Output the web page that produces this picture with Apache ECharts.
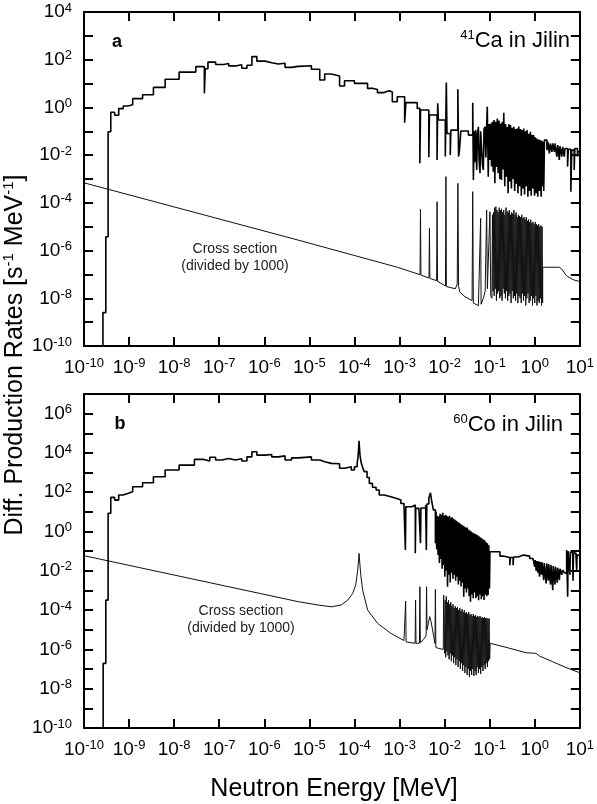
<!DOCTYPE html>
<html><head><meta charset="utf-8">
<script src="https://cdn.jsdelivr.net/npm/echarts@6/dist/echarts.min.js"></script>
<style>html,body{margin:0;padding:0;background:#fff}#c{width:597px;height:804px}</style>
</head><body><div id="c"></div>
<script>
// All values are log10 exponents: [log10(E / MeV), log10(rate)]
const xExpMin = -10, xExpMax = 1;
const caYExp = [-10, 4];
const coYExp = [-10, 7];

// 41Ca differential production rate (histogram, step)
const caFlux = [[-9.58,-11],[-9.58,-8.6],[-9.516,-5.42],[-9.465,-1.02],[-9.406,-0.2],[-9.32,-0.33],[-9.23,-0.05],[-9.13,0.06],[-9.03,0.11],[-8.92,0.37],[-8.7,0.53],[-8.46,0.84],[-8.2,1.18],[-7.89,1.48],[-7.52,1.71],[-7.33,0.59],[-7.31,1.62],[-7.25,1.9],[-7.08,1.8],[-6.9,1.84],[-6.79,1.74],[-6.64,1.79],[-6.5,1.64],[-6.385,1.77],[-6.275,2.13],[-6.165,1.94],[-5.98,1.87],[-5.835,1.82],[-5.69,1.85],[-5.54,1.68],[-5.395,1.72],[-5.25,1.75],[-4.955,1.6],[-4.77,1.15],[-4.66,1.4],[-4.515,1.32],[-4.33,0.9],[-4.22,1.12],[-4.0,1.01],[-3.71,0.8],[-3.6,0.75],[-3.49,0.62],[-3.36,0.7],[-3.23,0.65],[-3.16,0.24],[-3.05,0.45],
[-2.886,-0.64],[-2.86,0.2],[-2.607,-0.04],[-2.549,-2.34],[-2.534,-0.11],[-2.35,-2.09],[-2.336,-0.32],[-2.167,-2.2],[-2.153,0.17],[-2.138,-0.53],[-1.984,-2.06],[-1.962,1.04],[-1.947,-1.09],[-1.874,-1.99],[-1.86,-0.95],[-1.706,0.76],[-1.69,-2.06],[-1.669,-1.78],[-1.64,-0.99],[-1.471,-1.16],[-1.376,0.2],
[-1.361,-3.04],[-1.345,-1.0],[-1.324,-2.3],[-1.31,-0.95],[-1.288,-2.62],[-1.27,-1.1],[-1.251,-0.81],[-1.235,-2.2],[-1.214,-2.76],[-1.2,-1.0],[-1.178,-1.02],[-1.16,-2.4],[-1.141,-2.62],[-1.125,-0.9],[-1.104,-0.81],[-1.085,-2.1],[-1.068,-0.85],[-1.053,0.03],[-1.031,-2.9],[-1.015,-0.7],[-0.995,-2.2],[-0.978,-0.67],[-0.958,-2.48],[-0.94,-0.6],[-0.921,-2.7],[-0.903,-0.53],[-0.885,-3.18],[-0.867,-0.6],[-0.848,-2.5],[-0.83,-0.46],[-0.811,-2.76],[-0.793,-0.55],[-0.775,-3.0],[-0.757,-0.67],[-0.738,-3.04],[-0.72,-0.6],[-0.705,-2.6],[-0.687,-0.22],[-0.665,-3.3],[-0.648,-0.7],[-0.628,-2.9],[-0.61,-0.81],[-0.591,-3.6],[-0.573,-0.7],[-0.555,-3.1],[-0.537,-0.74],[-0.518,-3.4],[-0.5,-0.85],[-0.482,-3.0],[-0.464,-0.81],[-0.445,-3.5],[-0.427,-0.9],[-0.408,-3.2],[-0.39,-0.88],[-0.372,-3.6],[-0.354,-0.8],[-0.335,-3.3],[-0.317,-0.9],[-0.298,-3.7],[-0.28,-0.95],[-0.262,-3.4],[-0.244,-0.88],[-0.225,-3.65],[-0.207,-1.0],[-0.188,-3.3],[-0.17,-0.95],[-0.152,-3.74],[-0.134,-1.1],[-0.115,-3.5],[-0.097,-1.02],[-0.078,-3.7],[-0.06,-1.15],[-0.042,-3.4],[-0.024,-1.16],[-0.005,-3.7],[0.013,-1.25],[0.032,-3.6],[0.05,-1.3],[0.068,-3.74],[0.087,-1.35],[0.105,-3.5],[0.123,-1.37],[0.142,-3.74],[0.16,-1.4],[0.178,-3.3],[0.19,-1.44],[0.2,-3.5],
[0.215,-1.37],[0.27,-1.79],[0.29,-1.44],[0.325,-1.93],[0.345,-1.51],[0.38,-1.86],[0.4,-1.51],[0.435,-1.86],[0.45,-1.51],[0.49,-2.06],[0.51,-1.58],[0.545,-2.2],[0.56,-1.62],[0.6,-2.06],[0.62,-1.65],[0.655,-2.06],[0.67,-1.72],[0.728,-2.48],[0.745,-1.76],[0.801,-3.53],[0.82,-1.79],[0.875,-2.62],[0.89,-1.72],[0.948,-2.06],[0.96,-1.85],[1.0,-1.85]];

// 41Ca cross section (divided by 1000)
const caXs = [[-10,-3.16],[-5.25,-5.56],[-3.047,-6.70],[-2.545,-7.01],[-2.535,-4.27],[-2.525,-7.03],[-2.346,-7.15],[-2.336,-5.07],[-2.326,-7.17],[-2.177,-7.26],[-2.167,-3.95],[-2.157,-7.29],[-1.98,-7.48],[-1.97,-2.9],[-1.96,-7.51],[-1.76,-7.6],[-1.72,-7.4],[-1.705,-3.18],[-1.69,-7.5],[-1.66,-7.75],[-1.55,-7.93],[-1.39,-8.1],[-1.376,-3.53],[-1.362,-8.2],[-1.25,-8.31],[-1.21,-8.28],[-1.2,-4.65],[-1.19,-8.25],[-1.14,-8.0],[-1.1,-7.7],[-1.067,-4.3],[-1.05,-7.6],[-0.995,-4.37],[-0.975,-7.9],
[-0.950,-8.0],[-0.938,-4.5],[-0.925,-7.7],[-0.913,-4.4],[-0.900,-7.9],[-0.888,-4.2],[-0.875,-7.6],[-0.863,-4.16],[-0.850,-8.1],[-0.838,-4.3],[-0.825,-7.8],[-0.813,-4.4],[-0.800,-7.7],[-0.788,-4.2],[-0.775,-8.0],[-0.763,-4.3],[-0.750,-7.9],[-0.738,-4.25],[-0.725,-8.1],[-0.713,-4.4],[-0.700,-7.6],[-0.688,-4.3],[-0.675,-7.8],[-0.663,-4.5],[-0.650,-8.0],[-0.638,-4.2],[-0.625,-7.7],[-0.613,-4.35],[-0.600,-8.1],[-0.588,-4.4],[-0.575,-7.9],[-0.563,-4.3],[-0.550,-7.8],[-0.538,-4.5],[-0.525,-8.2],[-0.513,-4.4],[-0.500,-7.7],[-0.488,-4.45],[-0.475,-8.0],[-0.463,-4.3],[-0.450,-7.9],[-0.438,-4.5],[-0.425,-8.1],[-0.413,-4.4],[-0.400,-7.8],[-0.388,-4.6],[-0.375,-8.2],[-0.363,-4.5],[-0.350,-7.9],[-0.338,-4.55],[-0.325,-8.0],[-0.313,-4.6],[-0.300,-8.2],[-0.288,-4.5],[-0.275,-7.8],[-0.263,-4.65],[-0.250,-8.1],[-0.238,-4.6],[-0.225,-7.9],[-0.213,-4.7],[-0.200,-8.3],[-0.188,-4.6],[-0.175,-8.0],[-0.163,-4.75],[-0.150,-7.8],[-0.138,-4.7],[-0.125,-8.2],[-0.113,-4.8],[-0.100,-8.1],[-0.088,-4.7],[-0.075,-7.9],[-0.063,-4.85],[-0.050,-8.3],[-0.038,-4.8],[-0.025,-8.0],[-0.013,-4.9],[0.000,-8.2],[0.013,-4.8],[0.025,-7.9],[0.038,-4.9],[0.050,-8.3],[0.063,-4.95],[0.075,-8.1],[0.088,-4.9],[0.100,-8.2],[0.113,-5.0],[0.125,-8.0],[0.138,-4.95],[0.150,-8.3],[0.163,-5.0],[0.175,-8.2],
[0.178,-6.70],[0.546,-6.70],[0.6,-6.78],[0.7,-7.05],[0.85,-7.22],[1.0,-7.3]];

// 60Co differential production rate (histogram, step)
const coFlux = [[-9.575,-11],[-9.575,-6.71],[-9.516,-3.49],[-9.465,0.93],[-9.406,1.74],[-9.32,1.6],[-9.23,1.86],[-9.13,1.94],[-9.03,2.03],[-8.92,2.28],[-8.7,2.48],[-8.46,2.79],[-8.2,3.13],[-7.89,3.38],[-7.55,3.67],[-7.34,3.59],[-7.21,3.78],[-7.08,3.64],[-6.94,3.72],[-6.79,3.64],[-6.64,3.7],[-6.5,3.59],[-6.385,3.8],[-6.275,4.06],[-6.165,3.89],[-5.98,3.92],[-5.835,3.8],[-5.69,3.85],[-5.54,3.64],[-5.395,3.75],[-5.25,3.8],[-4.955,3.64],[-4.77,3.55],[-4.66,3.47],[-4.515,3.45],
[-4.33,3.22],[-4.22,3.3],[-4.07,3.13],[-4.0,3.3],[-3.94,3.47],[-3.92,3.8],[-3.905,4.3],[-3.898,4.62],[-3.89,4.3],[-3.875,3.85],[-3.85,3.5],[-3.81,3.2],[-3.78,3.05],[-3.72,2.75],[-3.67,2.45],[-3.6,2.25],[-3.52,2.11],[-3.45,1.86],[-3.34,1.77],[-3.19,1.69],[-3.08,1.6],[-2.97,1.43],[-2.9,1.26],[-2.87,-0.94],[-2.86,1.26],[-2.72,1.35],[-2.65,-1.11],[-2.64,1.18],[-2.57,1.26],[-2.535,-0.6],[-2.525,1.2],[-2.42,1.35],[-2.405,-0.94],[-2.395,1.4],[-2.35,1.7],[-2.314,1.97],[-2.29,1.6],[-2.25,1.1],[-2.204,-0.6],
[-2.190,1.0],[-2.175,-0.9],[-2.160,0.8],[-2.145,-1.2],[-2.130,0.76],[-2.115,-1.6],[-2.100,0.9],[-2.085,-1.4],[-2.070,0.85],[-2.055,-1.9],[-2.040,0.95],[-2.025,-1.7],[-2.010,0.8],[-1.995,-2.3],[-1.980,0.85],[-1.965,-2.0],[-1.950,0.8],[-1.935,-2.81],[-1.920,0.75],[-1.905,-2.2],[-1.890,0.8],[-1.875,-2.6],[-1.860,0.7],[-1.845,-2.1],[-1.830,0.72],[-1.815,-2.4],[-1.800,0.65],[-1.785,-2.2],[-1.770,0.6],[-1.755,-2.5],[-1.740,0.55],[-1.725,-2.3],[-1.710,0.5],[-1.695,-2.7],[-1.680,0.45],[-1.665,-2.5],[-1.650,0.4],[-1.635,-2.8],[-1.620,0.35],[-1.605,-2.6],[-1.590,0.3],[-1.575,-3.32],[-1.560,0.25],[-1.545,-2.9],[-1.530,0.2],[-1.515,-3.1],[-1.500,0.2],[-1.485,-2.9],[-1.470,0.1],[-1.455,-3.3],[-1.440,0.05],[-1.425,-3.57],[-1.410,0.0],[-1.395,-3.2],[-1.380,-0.05],[-1.365,-3.4],[-1.350,-0.09],[-1.335,-3.1],[-1.320,-0.12],[-1.305,-3.4],[-1.290,-0.15],[-1.275,-3.3],[-1.260,-0.2],[-1.245,-3.5],[-1.230,-0.25],[-1.215,-3.2],[-1.200,-0.3],[-1.185,-3.45],[-1.170,-0.35],[-1.155,-3.3],[-1.140,-0.4],[-1.125,-3.49],[-1.110,-0.45],[-1.095,-3.2],[-1.080,-0.55],[-1.065,-3.3],[-1.050,-0.6],[-1.035,-3.23],[-1.020,-0.7],[-1.005,-2.9],[-0.994,-1.03],
[-0.773,-1.25],[-0.7,-1.32],[-0.553,-1.71],[-0.54,-1.32],[-0.48,-1.71],[-0.47,-1.3],[-0.37,-1.25],[-0.333,-1.2],[-0.25,-1.2],[-0.223,-1.25],[-0.113,-1.37],[-0.04,-1.45],[0.0,-1.8],[0.01,-1.45],[0.033,-2.0],[0.045,-1.5],[0.07,-2.1],[0.08,-1.52],[0.107,-2.3],[0.12,-1.54],[0.15,-2.2],[0.16,-1.56],[0.2,-2.47],[0.21,-1.6],[0.253,-2.64],[0.265,-1.62],[0.3,-2.5],[0.31,-1.65],[0.35,-2.7],[0.36,-1.7],[0.4,-2.98],[0.41,-1.75],[0.45,-2.7],[0.46,-1.8],[0.5,-2.6],[0.51,-1.85],[0.547,-2.47],[0.56,-1.9],[0.6,-2.2],[0.62,-1.96],[0.657,-2.1],[0.693,-2.13],[0.708,-0.94],[0.72,-0.94],[0.73,-3.32],[0.74,-1.0],[0.766,-1.03],[0.78,-2.2],[0.79,-1.05],[0.84,-1.1],[0.85,-2.5],[0.86,-1.1],[0.913,-1.15],[0.93,-1.96],[0.94,-1.2],[0.987,-1.2],[1.0,-1.2]];

// 60Co cross section (divided by 1000)
const coXs = [[-10,-1.23],[-5.248,-3.57],[-4.808,-3.74],[-4.515,-3.83],[-4.295,-3.74],[-4.148,-3.49],[-4.038,-3.15],[-3.97,-2.7],[-3.93,-2.0],[-3.91,-1.5],[-3.898,-1.11],[-3.885,-1.5],[-3.86,-2.2],[-3.818,-2.98],[-3.708,-3.99],[-3.488,-4.67],[-3.194,-5.18],[-2.901,-5.55],[-2.874,-5.6],[-2.864,-3.54],[-2.854,-5.62],[-2.654,-5.69],[-2.644,-3.49],[-2.634,-5.69],[-2.558,-5.68],[-2.548,-2.81],[-2.538,-5.65],[-2.47,-5.5],[-2.41,-5.3],[-2.4,-2.81],[-2.39,-5.0],[-2.36,-4.67],[-2.33,-4.33],[-2.3,-4.59],[-2.24,-5.35],[-2.214,-5.7],[-2.204,-2.94],[-2.194,-5.9],[-2.13,-5.95],[-2.1,-6.03],[-2.03,-6.0],[-2.02,-3.23],
[-2.000,-6.2],[-1.988,-3.5],[-1.975,-6.4],[-1.963,-3.3],[-1.950,-6.1],[-1.938,-3.6],[-1.925,-6.3],[-1.913,-3.5],[-1.900,-6.5],[-1.888,-3.7],[-1.875,-6.2],[-1.863,-3.6],[-1.850,-6.6],[-1.838,-3.8],[-1.825,-6.3],[-1.813,-3.7],[-1.800,-6.7],[-1.788,-3.9],[-1.775,-6.4],[-1.763,-3.8],[-1.750,-6.8],[-1.738,-3.9],[-1.725,-6.5],[-1.713,-3.85],[-1.700,-6.9],[-1.688,-4.0],[-1.675,-6.6],[-1.663,-3.9],[-1.650,-7.0],[-1.638,-4.05],[-1.625,-6.7],[-1.613,-3.95],[-1.600,-7.1],[-1.588,-4.1],[-1.575,-6.8],[-1.563,-4.0],[-1.550,-7.2],[-1.538,-4.15],[-1.525,-6.9],[-1.513,-4.1],[-1.500,-7.3],[-1.488,-4.2],[-1.475,-7.0],[-1.463,-4.1],[-1.450,-7.39],[-1.438,-4.25],[-1.425,-7.1],[-1.413,-4.2],[-1.400,-7.3],[-1.388,-4.3],[-1.375,-7.0],[-1.363,-4.2],[-1.350,-7.35],[-1.338,-4.3],[-1.325,-7.1],[-1.313,-4.25],[-1.300,-7.3],[-1.288,-4.35],[-1.275,-6.9],[-1.263,-4.3],[-1.250,-7.2],[-1.238,-4.35],[-1.225,-7.0],[-1.213,-4.3],[-1.200,-7.25],[-1.188,-4.4],[-1.175,-6.9],[-1.163,-4.35],[-1.150,-7.1],[-1.138,-4.4],[-1.125,-6.8],[-1.113,-4.35],[-1.100,-7.0],[-1.088,-4.42],[-1.075,-6.7],[-1.063,-4.4],[-1.050,-6.9],[-1.038,-4.45],[-1.025,-6.6],[-1.013,-4.42],[-1.000,-6.5],
[-0.99,-5.69],[-0.64,-5.89],[-0.19,-6.17],[0.03,-6.2],[0.107,-6.34],[0.4,-6.63],[0.69,-6.92],[1.0,-7.19]];

const FONT = '"Liberation Sans", Arial, Helvetica, sans-serif';
const rich = {
  b: {fontSize: 19, lineHeight: 21, fontFamily: FONT, color: '#000'},
  s: {fontSize: 13, lineHeight: 13, fontFamily: FONT, color: '#000', verticalAlign: 'top'}
};
function xLab(v){ return '{b|10}{s|' + Math.round(v) + '}'; }
function yLab(v){ const n = Math.round(v); return (n % 2 === 0) ? '{b|10}{s|' + n + '}' : ''; }

const lineCol = '#000';
function xAxisDef(grid, bottom){
  return {type:'value', gridIndex:grid, min:xExpMin, max:xExpMax, interval:1,
    position: bottom ? 'bottom' : 'top',
    axisLine:{show:true, onZero:false, lineStyle:{color:lineCol, width:2}},
    axisTick:{show:true, inside:true, length:9, lineStyle:{color:lineCol, width:2}},
    axisLabel:{show:bottom, margin:11, formatter:xLab, rich:rich},
    splitLine:{show:false}};
}
function yAxisDef(grid, range, left){
  return {type:'value', gridIndex:grid, min:range[0], max:range[1], interval:1,
    position: left ? 'left' : 'right',
    axisLine:{show:true, onZero:false, lineStyle:{color:lineCol, width:2}},
    axisTick:{show:true, inside:true, length:9, lineStyle:{color:lineCol, width:2}},
    axisLabel:{show:left, margin:12, formatter:yLab, rich:rich},
    splitLine:{show:false}};
}
function toPairs(arr){ return arr.map(p => [p[0], p[1]]); }

const chart = echarts.init(document.getElementById('c'));
chart.setOption({
  animation:false,
  backgroundColor:'#fff',
  grid:[{left:84, top:12, width:500, height:334}, {left:84, top:394, width:500, height:334}],
  xAxis:[xAxisDef(0,true), xAxisDef(0,false), xAxisDef(1,true), xAxisDef(1,false)],
  yAxis:[yAxisDef(0,caYExp,true), yAxisDef(0,caYExp,false), yAxisDef(1,coYExp,true), yAxisDef(1,coYExp,false)],
  series:[
    {type:'line', xAxisIndex:0, yAxisIndex:0, data:toPairs(caXs), showSymbol:false, clip:true, lineStyle:{color:'#111', width:1}},
    {type:'line', xAxisIndex:0, yAxisIndex:0, data:toPairs(caFlux), step:'end', showSymbol:false, clip:true, lineStyle:{color:'#000', width:1.6}},
    {type:'line', xAxisIndex:2, yAxisIndex:2, data:toPairs(coXs), showSymbol:false, clip:true, lineStyle:{color:'#111', width:1}},
    {type:'line', xAxisIndex:2, yAxisIndex:2, data:toPairs(coFlux), step:'end', showSymbol:false, clip:true, lineStyle:{color:'#000', width:1.6}}
  ],
  graphic:[
    {type:'text', x:117, y:42, style:{text:'a', fontSize:18, fontWeight:'bold', fontFamily:FONT, fill:'#000', align:'center', textAlign:'center', verticalAlign:'middle', textVerticalAlign:'middle'}},
    {type:'text', x:120, y:424, style:{text:'b', fontSize:18, fontWeight:'bold', fontFamily:FONT, fill:'#000', align:'center', textAlign:'center', verticalAlign:'middle', textVerticalAlign:'middle'}},
    {type:'text', x:570, y:41, style:{text:'{p|41}{q|Ca in Jilin}', align:'right', textAlign:'right', verticalAlign:'middle', textVerticalAlign:'middle',
      rich:{p:{fontSize:13, lineHeight:13, fontFamily:FONT, fill:'#000', color:'#000', verticalAlign:'top'}, q:{fontSize:22, lineHeight:24, fontFamily:FONT, fill:'#000', color:'#000'}}}},
    {type:'text', x:563, y:425, style:{text:'{p|60}{q|Co in Jilin}', align:'right', textAlign:'right', verticalAlign:'middle', textVerticalAlign:'middle',
      rich:{p:{fontSize:13, lineHeight:13, fontFamily:FONT, fill:'#000', color:'#000', verticalAlign:'top'}, q:{fontSize:22, lineHeight:24, fontFamily:FONT, fill:'#000', color:'#000'}}}},
    {type:'text', x:235, y:249, style:{text:'Cross section', fontSize:14, fontFamily:FONT, fill:'#222', align:'center', textAlign:'center', verticalAlign:'middle', textVerticalAlign:'middle'}},
    {type:'text', x:235, y:266, style:{text:'(divided by 1000)', fontSize:14, fontFamily:FONT, fill:'#222', align:'center', textAlign:'center', verticalAlign:'middle', textVerticalAlign:'middle'}},
    {type:'text', x:241, y:611, style:{text:'Cross section', fontSize:14, fontFamily:FONT, fill:'#222', align:'center', textAlign:'center', verticalAlign:'middle', textVerticalAlign:'middle'}},
    {type:'text', x:241, y:628, style:{text:'(divided by 1000)', fontSize:14, fontFamily:FONT, fill:'#222', align:'center', textAlign:'center', verticalAlign:'middle', textVerticalAlign:'middle'}},
    {type:'text', x:334, y:789, style:{text:'Neutron Energy [MeV]', fontSize:25, fontFamily:FONT, fill:'#000', align:'center', textAlign:'center', verticalAlign:'middle', textVerticalAlign:'middle'}},
    {type:'text', x:15, y:355, rotation:Math.PI/2, style:{text:'{t|Diff. Production Rates [s}{u|-1}{t| MeV}{u|-1}{t|]}', align:'center', textAlign:'center', verticalAlign:'middle', textVerticalAlign:'middle',
      rich:{t:{fontSize:25, lineHeight:28, fontFamily:FONT, fill:'#000', color:'#000'}, u:{fontSize:15, lineHeight:15, fontFamily:FONT, fill:'#000', color:'#000', verticalAlign:'top'}}}}
  ]
});
</script></body></html>
